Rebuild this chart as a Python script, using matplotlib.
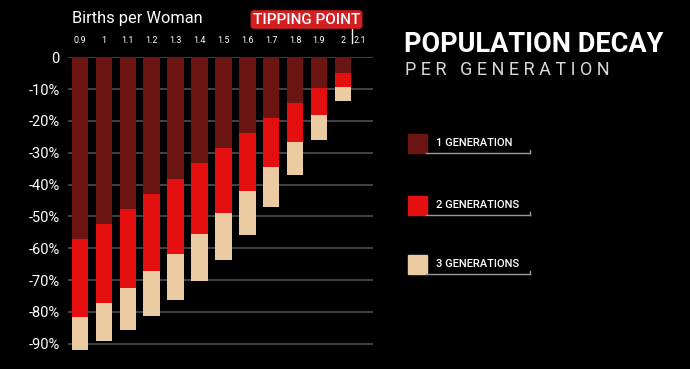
"""
Population decay per generation, stacked bars by births per woman.
"""
import numpy as np
import matplotlib.pyplot as plt
from matplotlib.patches import Rectangle
from matplotlib.transforms import blended_transform_factory

plt.rcParams['font.family'] = ['Roboto', 'DejaVu Sans']

# Data (percent decline after n generations)
births = ['0.9', '1', '1.1', '1.2', '1.3', '1.4', '1.5', '1.6', '1.7', '1.8', '1.9', '2']
gen1 = [57.1, 52.4, 47.6, 42.9, 38.1, 33.3, 28.6, 23.8, 19.0, 14.3, 9.5, 4.8]
gen2 = [81.6, 77.3, 72.6, 67.3, 61.7, 55.6, 49.0, 42.0, 34.5, 26.5, 18.1, 9.3]
gen3 = [92.1, 89.2, 85.6, 81.3, 76.3, 70.4, 63.6, 55.8, 47.0, 37.0, 25.9, 13.6]
y_ticks = [0, -10, -20, -30, -40, -50, -60, -70, -80, -90]
y_labels = ['0', '-10%', '-20%', '-30%', '-40%', '-50%', '-60%', '-70%', '-80%', '-90%']
legend_labels = ['1 GENERATION', '2 GENERATIONS', '3 GENERATIONS']

c1, c2, c3 = '#6a1512', '#e40f0f', '#eacba2'
W, H = 690, 369

fig = plt.figure(figsize=(W/100, H/100), dpi=100, facecolor='black')
ax = fig.add_axes([68/W, 1-359.6/H, 305/W, 302.3/H])
ax.set_facecolor('black')

x = np.arange(len(births))
g1 = np.array(gen1)
g2 = np.array(gen2)
g3 = np.array(gen3)

# gridlines behind bars
for t in y_ticks:
    ax.axhline(t, color='#4d4d4d', lw=1.2, zorder=0)

ax.bar(x, -g1, width=0.69, color=c1, zorder=2)
ax.bar(x, -(g2-g1), bottom=-g1, width=0.69, color=c2, zorder=2)
ax.bar(x, -(g3-g2), bottom=-g2, width=0.69, color=c3, zorder=2)

ax.set_xlim(-0.5, 12.26)
ax.set_ylim(-95, 0)
for s in ax.spines.values():
    s.set_visible(False)

ax.set_yticks(y_ticks, y_labels)
ax.tick_params(axis='y', length=0, pad=6, labelsize=10.5, labelcolor='white')

# top axis: births per woman, 2.1 squeezed next to the tipping point marker
ax.xaxis.tick_top()
ax.set_xticks(list(x) + [11.7], births + ['2.1'])
ax.tick_params(axis='x', length=0, pad=8.5, labelsize=6.5, labelcolor='white')

trans = blended_transform_factory(ax.transData, ax.transAxes)
ax.plot([11.38, 11.38], [1.047, 1.094], color='white', lw=1, transform=trans,
        clip_on=False)

fig.text(72/W, 1-18/H, 'Births per Woman', color='white', fontsize=11.8,
         va='center', ha='left')
fig.text(306.5/W, 1-19.5/H, 'TIPPING POINT', color='white', fontsize=11,
         fontweight='medium', ha='center', va='center',
         bbox=dict(boxstyle='round,pad=0.15,rounding_size=0.2', fc='#d41f22', ec='none'))

# title
fig.text(404/W, 1-44/H, 'POPULATION DECAY', color='white', fontsize=19.5,
         fontweight='bold', ha='left', va='center')
fig.text(405/W, 1-70/H, 'P E R   G E N E R A T I O N', color='#d8d8d8',
         fontsize=13, ha='left', va='center')

# legend drawn in pixel coordinates
lax = fig.add_axes([0, 0, 1, 1])
lax.set_xlim(0, W)
lax.set_ylim(H, 0)
lax.axis('off')
for i, (lab, col) in enumerate(zip(legend_labels, [c1, c2, c3])):
    top = [134, 196, 255][i]
    lax.add_patch(Rectangle((408, top), 18.5, 18.5, color=col))
    lax.text(436, top + 9, lab, color='white', fontsize=8,
             fontweight='medium', va='center', ha='left')
    lax.plot([426, 530], [top + 18.5, top + 18.5], color='#9a9a9a', lw=1)
    lax.plot([530, 530], [top + 16, top + 18.5], color='#9a9a9a', lw=1)

fig.savefig('out.png', dpi=100, facecolor='black')
